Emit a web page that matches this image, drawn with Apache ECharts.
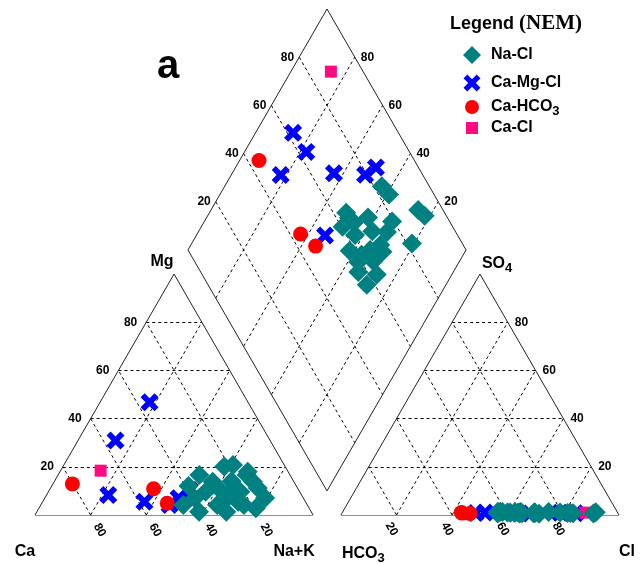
<!DOCTYPE html>
<html><head><meta charset="utf-8">
<script src="https://cdn.jsdelivr.net/npm/echarts@6/dist/echarts.min.js"></script>
<style>html,body{margin:0;padding:0;background:#fff}#c{width:644px;height:564px}</style>
</head><body><div id="c"></div>
<script>
// ---------------- data (percent of meq/L) ----------------
const ticks = [20, 40, 60, 80];
const groupNames = ['Na-Cl', 'Ca-Mg-Cl', 'Ca-HCO3', 'Ca-Cl'];

const naClMg  = [16.6, 4.2, 6.9, 9.7, 13.8, 20.1, 1.4, 20.8, 9.7, 4.2, 11.1, 16.6, 1.4, 9.7, 5.5, 13.8, 4.2, 11.2, 2.8, 7.1, 12.0, 18.0, 7.0, 14.0];
const naClNaK = [50.8, 51.2, 54.0, 56.5, 57.0, 58.0, 58.3, 60.8, 62.4, 63.4, 65.8, 67.8, 68.1, 69.0, 70.3, 71.5, 73.0, 74.5, 78.0, 79.2, 49.2, 67.5, 65.5, 63.7];
const naClSO4 = [1.0, 0.6, 1.2, 0.8, 1.0, 0.5, 1.4, 0.7, 1.1, 0.9, 0.6, 1.2, 0.8, 1.0, 0.7, 1.3, 0.9, 0.6, 1.1, 0.8, 0.9, 1.0, 0.7, 1.2];
const naClCl  = [59.4, 64.0, 64.1, 82.1, 62.2, 71.0, 56.6, 83.1, 69.1, 60.5, 56.1, 74.1, 69.4, 63.3, 68.9, 55.8, 61.9, 90.5, 91.1, 81.1, 63.7, 78.3, 64.8, 57.5];

const caMgClMg  = [30.9, 46.8, 8.3, 5.5, 4.2, 7.0, 10.4];
const caMgClNaK = [13.5, 17.8, 22.2, 36.6, 46.3, 48.1, 50.5];
const caMgClSO4 = [1.0, 0.8, 1.2, 0.6, 1.0, 0.9, 0.7];
const caMgClCl  = [61.1, 48.1, 61.7, 67.8, 51.3, 78.4, 84.0];

const caHCO3Mg  = [12.9, 10.9, 4.9];
const caHCO3NaK = [7.0, 37.2, 45.1];
const caHCO3SO4 = [0.8, 1.0, 0.6];
const caHCO3Cl  = [43.3, 42.8, 46.1];

const caClMg  = [18.4];
const caClNaK = [14.4];
const caClSO4 = [1.0];
const caClCl  = [87.4];

// ---------------- geometry (ternary -> cartesian) ----------------
const H = Math.sqrt(3) / 2;
const GAP = 10;
const AX = 100 + GAP;
const XMAX = AX + 100;
const YMAX = H * (AX + 100);
const cat = (mg, nak) => [nak + mg / 2, mg * H];
const ani = (so4, cl) => [AX + cl + so4 / 2, so4 * H];
const dia = (nak, cs) => [(nak + AX + cs) / 2, H * (AX + cs - nak)];

const outline = [], gridL = [];
const seg = (arr, a, b) => arr.push({ coords: [a, b] });
seg(outline, cat(0,0), cat(0,100)); seg(outline, cat(0,100), cat(100,0)); seg(outline, cat(100,0), cat(0,0));
seg(outline, ani(0,0), ani(0,100)); seg(outline, ani(0,100), ani(100,0)); seg(outline, ani(100,0), ani(0,0));
seg(outline, dia(0,0), dia(0,100)); seg(outline, dia(0,100), dia(100,100)); seg(outline, dia(100,100), dia(100,0)); seg(outline, dia(100,0), dia(0,0));
ticks.forEach(k => {
  seg(gridL, cat(k,0), cat(k,100-k));
  seg(gridL, cat(0,k), cat(100-k,k));
  seg(gridL, cat(0,100-k), cat(100-k,0));
  seg(gridL, ani(k,0), ani(k,100-k));
  seg(gridL, ani(0,k), ani(100-k,k));
  seg(gridL, ani(0,100-k), ani(100-k,0));
  seg(gridL, dia(k,0), dia(k,100));
  seg(gridL, dia(0,k), dia(100,k));
});

function groupPoints(mg, nak, so4, cl) {
  const pts = [];
  for (let i = 0; i < mg.length; i++) {
    pts.push(cat(mg[i], nak[i]));
    pts.push(ani(so4[i], cl[i]));
    pts.push(dia(nak[i], so4[i] + cl[i]));
  }
  return pts;
}

const COLORS = { naCl: '#008080', caMgCl: '#0000ff', caHCO3: '#ff0000', caCl: '#ff0a80' };
const CROSS_PTS = [[0,4.5],[4.5,0],[10,5.5],[15.5,0],[20,4.5],[14.5,10],[20,15.5],[15.5,20],[10,14.5],[4.5,20],[0,15.5],[5.5,10]];
const CROSS = 'M' + CROSS_PTS.map(p => p.join(',')).join('L') + 'Z';
const FONT = 'Arial, "Liberation Sans", sans-serif';

const chart = echarts.init(document.getElementById('c'));
chart.setOption({
  animation: false,
  backgroundColor: '#fff',
  grid: { left: 35, right: 25, top: 9, bottom: 49 },
  xAxis: { type: 'value', min: 0, max: XMAX, show: false },
  yAxis: { type: 'value', min: 0, max: YMAX, show: false },
  series: [
    { type: 'lines', coordinateSystem: 'cartesian2d', data: gridL, silent: true, z: 1,
      lineStyle: { color: '#000', width: 1, type: [3, 3], opacity: 1 } },
    { type: 'lines', coordinateSystem: 'cartesian2d', data: outline, silent: true, z: 1,
      lineStyle: { color: '#222', width: 1, type: 'solid', opacity: 1 } },
    { name: groupNames[1], type: 'scatter', clip: false, z: 2, symbol: 'path://' + CROSS, symbolSize: 18,
      itemStyle: { color: COLORS.caMgCl, opacity: 1 }, data: groupPoints(caMgClMg, caMgClNaK, caMgClSO4, caMgClCl) },
    { name: groupNames[3], type: 'scatter', clip: false, z: 3, symbol: 'rect', symbolSize: 12,
      itemStyle: { color: COLORS.caCl, opacity: 1 }, data: groupPoints(caClMg, caClNaK, caClSO4, caClCl) },
    { name: groupNames[2], type: 'scatter', clip: false, z: 4, symbol: 'circle', symbolSize: 15,
      itemStyle: { color: COLORS.caHCO3, opacity: 1 }, data: groupPoints(caHCO3Mg, caHCO3NaK, caHCO3SO4, caHCO3Cl) },
    { name: groupNames[0], type: 'scatter', clip: false, z: 5, symbol: 'diamond', symbolSize: 20,
      itemStyle: { color: COLORS.naCl, opacity: 1 }, data: groupPoints(naClMg, naClNaK, naClSO4, naClCl) }
  ]
});

// ---------------- labels ----------------
const px = p => chart.convertToPixel({ gridIndex: 0 }, p);
const g = [];
function txt(x, y, text, font, align, vAlign, rot, rich) {
  const el = { type: 'text', x: x, y: y, z: 10, rotation: rot || 0,
    style: { text: text, font: font, fill: '#000', align: align, verticalAlign: vAlign } };
  if (rich) el.style.rich = rich;
  g.push(el);
}
const TF = 'bold 12px ' + FONT;
const ROT = -Math.PI / 3;
ticks.forEach(k => {
  let p = px(cat(k, 0));            txt(p[0] - 9, p[1], String(k), TF, 'right', 'middle');
  p = px(cat(0, k));                txt(p[0] + 9, p[1] + 15, String(100 - k), TF, 'center', 'middle', ROT);
  p = px(ani(0, k));                txt(p[0] - 5, p[1] + 14, String(k), TF, 'center', 'middle', ROT);
  p = px(ani(k, 100 - k));          txt(p[0] + 7, p[1], String(k), TF, 'left', 'middle');
  p = px(dia(0, k));                txt(p[0] - 5, p[1], String(k), TF, 'right', 'middle');
  p = px(dia(k, 100));              txt(p[0] + 6, p[1], String(100 - k), TF, 'left', 'middle');
});
const VF = 'bold 16px ' + FONT;
const subRich = { n: { font: VF, verticalAlign: 'middle' }, s: { font: 'bold 13px ' + FONT, padding: [9, 0, 0, 0], verticalAlign: 'middle' } };
let v = px(cat(0, 0));   txt(v[0] - 10, v[1] + 37, 'Ca', VF, 'center', 'middle');
v = px(cat(0, 100));     txt(v[0] - 19, v[1] + 37, 'Na+K', VF, 'center', 'middle');
v = px(cat(100, 0));     txt(v[0] - 12, v[1] - 12, 'Mg', VF, 'center', 'middle');
v = px(ani(0, 0));       txt(v[0] + 1, v[1] + 39, '{n|HCO}{s|3}', VF, 'left', 'middle', 0, subRich);
v = px(ani(0, 100));     txt(v[0] + 8, v[1] + 37, 'Cl', VF, 'center', 'middle');
v = px(ani(100, 0));     txt(v[0] + 2, v[1] - 10, '{n|SO}{s|4}', VF, 'left', 'middle', 0, subRich);

// panel letter
txt(168, 67, 'a', 'bold 40px ' + FONT, 'center', 'middle');

// legend
g.push({ type: 'text', x: 450, y: 24, z: 10, style: {
  text: '{a|Legend }{b|(NEM)}', fill: '#000', align: 'left', verticalAlign: 'middle',
  rich: { a: { font: 'bold 18px ' + FONT }, b: { font: 'bold 21px "Liberation Serif", "Times New Roman", serif' } } } });
const LX = 472, TX = 491;
const LY = [55, 83, 107, 128];
g.push({ type: 'polygon', z: 10, shape: { points: [[LX, LY[0] - 9], [LX + 9, LY[0]], [LX, LY[0] + 9], [LX - 9, LY[0]]] }, style: { fill: COLORS.naCl } });
g.push({ type: 'polygon', z: 10, shape: { points: CROSS_PTS.map(p => [LX - 8.5 + p[0] * 0.85, LY[1] - 8.5 + p[1] * 0.85]) }, style: { fill: COLORS.caMgCl } });
g.push({ type: 'circle', z: 10, shape: { cx: LX, cy: LY[2], r: 7 }, style: { fill: COLORS.caHCO3 } });
g.push({ type: 'rect', z: 10, shape: { x: LX - 6, y: LY[3] - 6, width: 12, height: 12 }, style: { fill: COLORS.caCl } });
const LF = 'bold 16px ' + FONT;
txt(TX, LY[0], 'Na-Cl', LF, 'left', 'middle');
txt(TX, LY[1], 'Ca-Mg-Cl', LF, 'left', 'middle');
txt(TX, LY[2], '{n|Ca-HCO}{s|3}', LF, 'left', 'middle', 0,
  { n: { font: LF, verticalAlign: 'middle' }, s: { font: 'bold 13px ' + FONT, padding: [8, 0, 0, 0], verticalAlign: 'middle' } });
txt(TX, LY[3], 'Ca-Cl', LF, 'left', 'middle');

chart.setOption({ graphic: { elements: g } });
</script>
</body></html>
